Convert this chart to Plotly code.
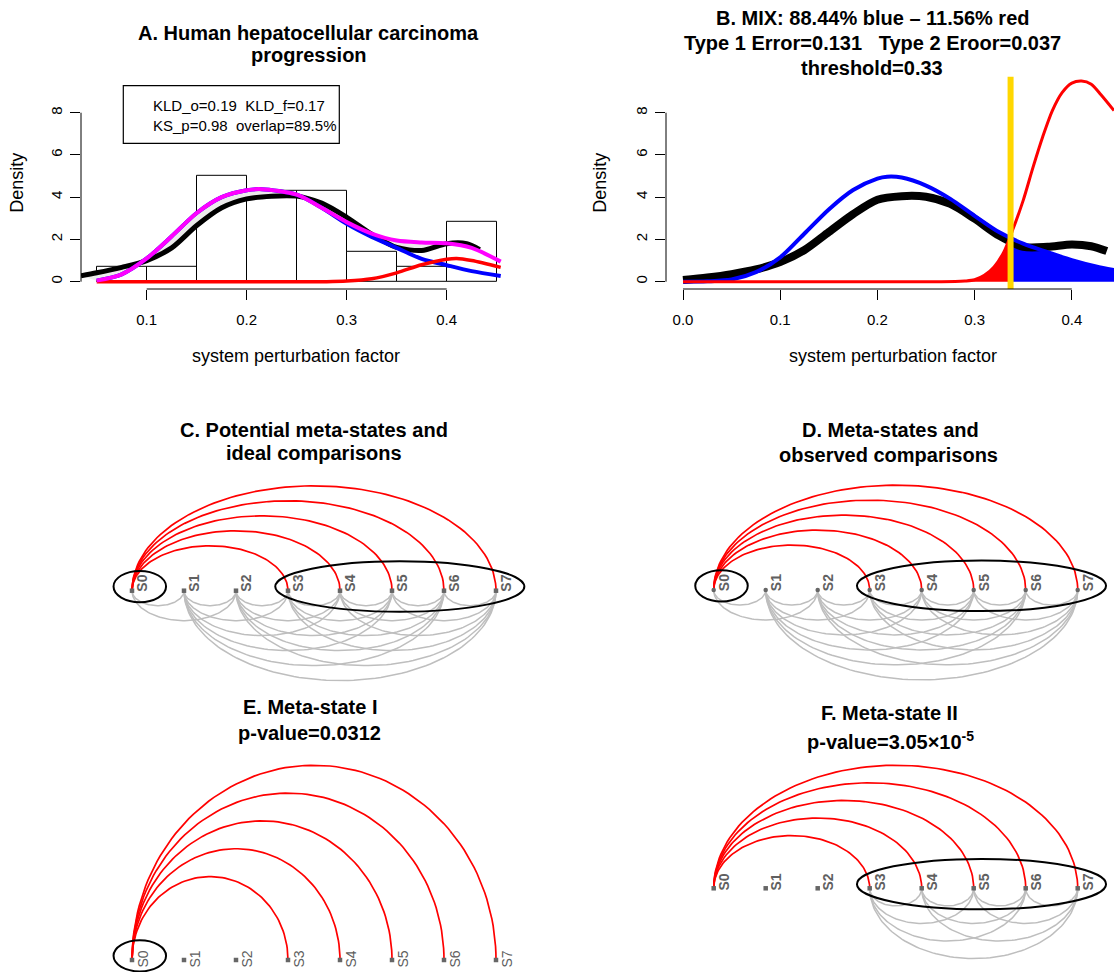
import numpy as np
import plotly.graph_objects as go

W, H = 1114, 972
FONT = "Liberation Sans, Arial, Helvetica, sans-serif"
NB = "\u00a0"

# ---------------- Panel A data ----------------
hist_left = [0.05, 0.10, 0.15, 0.20, 0.25, 0.30, 0.35, 0.40]
hist_density = [0.714, 0.714, 5.0, 4.286, 4.286, 1.429, 0.714, 2.857]
bin_width = 0.05

A_black_x = [0.0343, 0.05, 0.075, 0.1, 0.125, 0.15, 0.175, 0.2, 0.225, 0.25, 0.275, 0.3, 0.325, 0.35, 0.375, 0.4, 0.42, 0.433]
A_black_y = [0.28, 0.42, 0.68, 1.0, 1.6, 2.66, 3.5, 3.92, 4.05, 4.05, 3.72, 3.05, 2.25, 1.62, 1.48, 1.8, 1.8, 1.52]

A_mag_x = [0.05, 0.075, 0.1, 0.125, 0.15, 0.175, 0.2, 0.215, 0.25, 0.275, 0.3, 0.325, 0.35, 0.375, 0.4, 0.425, 0.454]
A_mag_y = [0.05, 0.35, 1.1, 2.15, 3.25, 4.0, 4.33, 4.38, 4.12, 3.5, 2.82, 2.28, 1.95, 1.86, 1.82, 1.6, 0.95]

A_blue_x = [0.05, 0.075, 0.1, 0.125, 0.15, 0.175, 0.2, 0.215, 0.25, 0.275, 0.3, 0.325, 0.35, 0.375, 0.4, 0.425, 0.454]
A_blue_y = [0.05, 0.35, 1.1, 2.15, 3.25, 4.0, 4.33, 4.38, 4.12, 3.5, 2.74, 2.12, 1.6, 1.08, 0.78, 0.5, 0.27]

A_red_x = [0.05, 0.1, 0.15, 0.2, 0.25, 0.28, 0.3, 0.325, 0.35, 0.375, 0.4, 0.41, 0.425, 0.454]
A_red_y = [0.0, 0.0, 0.0, 0.0, 0.0, 0.0, 0.03, 0.14, 0.42, 0.8, 1.06, 1.1, 1.0, 0.68]

A_xticks = [0.1, 0.2, 0.3, 0.4]
A_xticklabels = ["0.1", "0.2", "0.3", "0.4"]
yticks = [0, 2, 4, 6, 8]
legend_lines = ["KLD_o=0.19" + NB * 2 + "KLD_f=0.17", "KS_p=0.98" + NB * 2 + "overlap=89.5%"]

# ---------------- Panel B data ----------------
B_black_x = [0.0, 0.025, 0.05, 0.075, 0.1, 0.125, 0.15, 0.175, 0.2, 0.225, 0.25, 0.275, 0.3, 0.325, 0.35, 0.375, 0.4, 0.42, 0.436]
B_black_y = [0.08, 0.2, 0.36, 0.58, 0.93, 1.5, 2.35, 3.2, 3.88, 4.05, 4.02, 3.68, 2.98, 2.18, 1.65, 1.65, 1.76, 1.68, 1.45]

B_blue_x = [0.0, 0.025, 0.05, 0.075, 0.1, 0.125, 0.15, 0.175, 0.2, 0.21, 0.225, 0.25, 0.275, 0.3, 0.325, 0.35, 0.375, 0.4, 0.425, 0.4434]
B_blue_y = [0.0, 0.02, 0.1, 0.45, 1.15, 2.28, 3.42, 4.34, 4.88, 4.97, 4.93, 4.55, 3.92, 3.12, 2.35, 1.8, 1.4, 1.02, 0.72, 0.55]

B_red_x = [0.0, 0.1, 0.2, 0.26, 0.28, 0.29, 0.3, 0.31, 0.32, 0.33, 0.34, 0.35, 0.36, 0.37, 0.38, 0.39, 0.4, 0.41, 0.42, 0.43, 0.4434]
B_red_y = [0.0, 0.0, 0.0, 0.0, 0.005, 0.03, 0.09, 0.3, 0.7, 1.4, 2.55, 3.85, 5.4, 6.85, 8.1, 8.95, 9.4, 9.5, 9.35, 8.85, 8.1]

threshold_x = 0.337
B_xticks = [0.0, 0.1, 0.2, 0.3, 0.4]
B_xticklabels = ["0.0", "0.1", "0.2", "0.3", "0.4"]

# ---------------- Arc panels data ----------------
nodes = ["S0", "S1", "S2", "S3", "S4", "S5", "S6", "S7"]
red_edges = [("S0", "S3"), ("S0", "S4"), ("S0", "S5"), ("S0", "S6"), ("S0", "S7")]
gray_edges_CD = [("S0", "S1"), ("S0", "S2"),
                 ("S1", "S2"), ("S1", "S3"), ("S1", "S4"), ("S1", "S5"), ("S1", "S6"), ("S1", "S7"),
                 ("S2", "S3"), ("S2", "S4"), ("S2", "S5"), ("S2", "S6"), ("S2", "S7"),
                 ("S3", "S4"), ("S3", "S5"), ("S3", "S6"), ("S3", "S7"),
                 ("S4", "S5"), ("S4", "S6"), ("S4", "S7"),
                 ("S5", "S6"), ("S5", "S7"),
                 ("S6", "S7")]
gray_edges_F = [("S3", "S4"), ("S3", "S5"), ("S3", "S6"), ("S3", "S7"),
                ("S4", "S5"), ("S4", "S6"), ("S4", "S7"),
                ("S5", "S6"), ("S5", "S7"),
                ("S6", "S7")]
groups_CD = [["S0"], ["S3", "S4", "S5", "S6", "S7"]]
groups_E = [["S0"]]
groups_F = [["S3", "S4", "S5", "S6", "S7"]]

fig = go.Figure()


def px(xp):
    return xp / W


def py(yp):
    return 1 - yp / H


# ---------- Panel A ----------
fig.add_trace(go.Bar(x=[l + bin_width / 2 for l in hist_left], y=hist_density, width=bin_width,
                     marker=dict(color="white", line=dict(color="black", width=1)),
                     xaxis="x", yaxis="y", showlegend=False, hoverinfo="skip"))
fig.add_trace(go.Scatter(x=A_black_x, y=A_black_y, mode="lines", line=dict(width=0, shape="spline", smoothing=0.8),
                         xaxis="x", yaxis="y", showlegend=False, hoverinfo="skip"))
fig.add_trace(go.Scatter(x=A_mag_x, y=A_mag_y, mode="lines", line=dict(width=0, shape="spline", smoothing=0.8),
                         fill="tonexty", fillcolor="#EBEBEB",
                         xaxis="x", yaxis="y", showlegend=False, hoverinfo="skip"))
for xs, ys, col, w in [(A_black_x, A_black_y, "black", 5), (A_blue_x, A_blue_y, "blue", 4),
                       (A_red_x, A_red_y, "red", 3.5), (A_mag_x, A_mag_y, "magenta", 4)]:
    fig.add_trace(go.Scatter(x=xs, y=ys, mode="lines", line=dict(color=col, width=w, shape="spline", smoothing=0.8),
                             xaxis="x", yaxis="y", showlegend=False, hoverinfo="skip"))

# ---------- Panel B ----------
rx = [x for x in B_red_x if 0.29 <= x < threshold_x] + [threshold_x]
ry = [y for x, y in zip(B_red_x, B_red_y) if 0.29 <= x < threshold_x] + [float(np.interp(threshold_x, B_red_x, B_red_y))]
bx = [threshold_x] + [x for x in B_blue_x if x > threshold_x]
by = [float(np.interp(threshold_x, B_blue_x, B_blue_y))] + [y for x, y in zip(B_blue_x, B_blue_y) if x > threshold_x]
fig.add_trace(go.Scatter(x=rx, y=ry, mode="lines", fill="tozeroy", fillcolor="red",
                         line=dict(color="black", width=1, shape="spline", smoothing=0.6),
                         xaxis="x2", yaxis="y2", showlegend=False, hoverinfo="skip"))
fig.add_trace(go.Scatter(x=bx, y=by, mode="lines", fill="tozeroy", fillcolor="blue",
                         line=dict(color="black", width=1, shape="spline", smoothing=0.6),
                         xaxis="x2", yaxis="y2", showlegend=False, hoverinfo="skip"))
for xs, ys, col, w in [(B_black_x, B_black_y, "black", 8), (B_blue_x, B_blue_y, "blue", 4),
                       (B_red_x, B_red_y, "red", 3)]:
    fig.add_trace(go.Scatter(x=xs, y=ys, mode="lines", line=dict(color=col, width=w, shape="spline", smoothing=0.8),
                             xaxis="x2", yaxis="y2", showlegend=False, hoverinfo="skip"))

shapes = []
annotations = []

# yellow threshold line
shapes.append(dict(type="line", xref="x2", yref="y2 domain", x0=threshold_x, x1=threshold_x, y0=0, y1=1,
                   line=dict(color="#FFD700", width=6)))

# R-style axis lines
for xa, ya, xt in [("x", "y", A_xticks), ("x2", "y2", B_xticks)]:
    shapes.append(dict(type="line", xref=xa, yref=ya + " domain", x0=min(xt), x1=max(xt), y0=0, y1=0,
                       line=dict(color="black", width=1)))
    shapes.append(dict(type="line", xref=xa + " domain", yref=ya, x0=0, x1=0, y0=min(yticks), y1=max(yticks),
                       line=dict(color="black", width=1)))

# legend box A
shapes.append(dict(type="rect", xref="paper", yref="paper", x0=px(123.3), x1=px(339.3), y0=py(143.3), y1=py(85.7),
                   line=dict(color="black", width=1.2), fillcolor="rgba(0,0,0,0)"))
for i, t in enumerate(legend_lines):
    annotations.append(dict(text=t, x=px(151), y=py([105.3, 125.5][i]), xref="paper", yref="paper",
                            xanchor="left", yanchor="middle", showarrow=False,
                            font=dict(family=FONT, size=15, color="black")))

# ---------- Arc panels ----------
UNIT = 52.0
arc_panels = [
    ("C", "x3", "y3", 132.0, 590.7, (100, 545), (465, 700), 0.288, red_edges, gray_edges_CD, groups_CD, "square", 7.5, True),
    ("D", "x4", "y4", 713.7, 590.0, (680, 1114), (465, 700), 0.288, red_edges, gray_edges_CD, groups_CD, "circle", 7.0, True),
    ("E", "x5", "y5", 132.0, 960.0, (100, 545), (750, 972), 0.535, red_edges, [], groups_E, "square", 1.0, False),
    ("F", "x6", "y6", 713.7, 888.3, (680, 1114), (750, 972), 0.338, red_edges, gray_edges_F, groups_F, "square", 6.0, True),
]
pos = {n: i for i, n in enumerate(nodes)}
t = np.linspace(0, np.pi, 90)
axis_layout = {}


def arcs(edges, ratio, sign):
    xs, ys = [], []
    for a, b in edges:
        ia, ib = pos[a], pos[b]
        c, r = (ia + ib) / 2, (ib - ia) / 2
        xs += list(c - r * np.cos(t)) + [None]
        ys += list(sign * ratio * (ib - ia) * np.sin(t)) + [None]
    return xs, ys


for (name, xa, ya, x0p, nyp, xdom, ydom, ratio, reds, grays, groups, sym, lshift, bold) in arc_panels:
    axis_layout["xaxis" + xa[1:]] = dict(domain=[px(xdom[0]), px(xdom[1])],
                                         range=[(xdom[0] - x0p) / UNIT, (xdom[1] - x0p) / UNIT],
                                         visible=False, anchor=ya)
    axis_layout["yaxis" + ya[1:]] = dict(domain=[py(ydom[1]), py(ydom[0])],
                                         range=[-(ydom[1] - nyp) / UNIT, (nyp - ydom[0]) / UNIT],
                                         visible=False, anchor=xa)
    if grays:
        gx, gy = arcs(grays, ratio, -1)
        fig.add_trace(go.Scatter(x=gx, y=gy, mode="lines", line=dict(color="#BEBEBE", width=1.5),
                                 xaxis=xa, yaxis=ya, showlegend=False, hoverinfo="skip"))
    rxs, rys = arcs(reds, ratio, 1)
    fig.add_trace(go.Scatter(x=rxs, y=rys, mode="lines", line=dict(color="red", width=1.7),
                             xaxis=xa, yaxis=ya, showlegend=False, hoverinfo="skip"))
    fig.add_trace(go.Scatter(x=[pos[n] for n in nodes], y=[0] * len(nodes), mode="markers",
                             marker=dict(symbol=sym, size=4.5, color="#666666"),
                             xaxis=xa, yaxis=ya, showlegend=False, hoverinfo="skip"))
    for n in nodes:
        annotations.append(dict(text=("<b>%s</b>" % n) if bold else n, x=pos[n], y=0, xref=xa, yref=ya,
                                textangle=-90, xanchor="center", yanchor="middle", xshift=10.5, yshift=lshift,
                                showarrow=False, font=dict(family=FONT, size=14, color="#606060")))
    for g in groups:
        idx = [pos[n] for n in g]
        cx = (min(idx) + max(idx)) / 2 + 0.15
        rxx = (max(idx) - min(idx)) / 2 + (0.505 if len(g) == 1 else 0.395)
        ryy = 0.30 if len(g) == 1 else 0.485
        cy = 0.08
        shapes.append(dict(type="circle", xref=xa, yref=ya, x0=cx - rxx, x1=cx + rxx, y0=cy - ryy, y1=cy + ryy,
                           line=dict(color="black", width=2)))

# ---------- Titles & axis titles ----------
titles = [
    ("A. Human hepatocellular carcinoma", 308, 33.3), ("progression", 308.5, 55.0),
    ("B. MIX: 88.44% blue \u2013 11.56% red", 872, 18.3),
    ("Type 1 Error=0.131" + NB * 3 + "Type 2 Eroor=0.037", 872.5, 43.3),
    ("threshold=0.33", 872, 68.3),
    ("C. Potential meta-states and", 314, 430), ("ideal comparisons", 314, 453.3),
    ("D. Meta-states and", 890, 430), ("observed comparisons", 888, 455),
    ("E. Meta-state I", 310, 706.7), ("p-value=0.0312", 309, 733.3),
    ("F. Meta-state II", 889, 713), ("p-value=3.05\u00d710<sup>-5</sup>", 890, 740),
]
for txt, xc, yc in titles:
    annotations.append(dict(text="<b>%s</b>" % txt, x=px(xc), y=py(yc), xref="paper", yref="paper",
                            xanchor="center", yanchor="middle", showarrow=False,
                            font=dict(family=FONT, size=20, color="black")))

for xc, yc in [(17.5, 183.3), (600.5, 183.3)]:
    annotations.append(dict(text="Density", x=px(xc), y=py(yc), xref="paper", yref="paper", textangle=-90,
                            xanchor="center", yanchor="middle", showarrow=False,
                            font=dict(family=FONT, size=18, color="black")))
for xc, yc in [(296, 356), (892.5, 356)]:
    annotations.append(dict(text="system perturbation factor", x=px(xc), y=py(yc), xref="paper", yref="paper",
                            xanchor="center", yanchor="middle", showarrow=False,
                            font=dict(family=FONT, size=18, color="black")))

tickfont = dict(family=FONT, size=15, color="black")
common_x = dict(showgrid=False, zeroline=False, showline=False, ticks="outside", ticklen=10, tickwidth=1,
                tickcolor="black", tickfont=tickfont, ticklabelstandoff=7)
common_y = dict(showgrid=False, zeroline=False, showline=False, ticks="outside", ticklen=10, tickwidth=1,
                tickcolor="black", tickfont=tickfont, tickangle=-90, tickvals=yticks,
                ticktext=[str(v) for v in yticks], ticklabelstandoff=2)

yr = [-0.346, 9.7]
ydom = [py(289), py(76.8)]

fig.update_layout(
    width=W, height=H, autosize=False, margin=dict(l=0, r=0, t=0, b=0),
    paper_bgcolor="white", plot_bgcolor="rgba(0,0,0,0)", showlegend=False,
    font=dict(family=FONT),
    xaxis=dict(domain=[px(81), px(535)], range=[0.0343, 0.4883], anchor="y",
               tickvals=A_xticks, ticktext=A_xticklabels, **common_x),
    yaxis=dict(domain=ydom, range=yr, anchor="x", **common_y),
    xaxis2=dict(domain=[px(666), 1.0], range=[-0.0175, 0.4434], anchor="y2",
                tickvals=B_xticks, ticktext=B_xticklabels, **common_x),
    yaxis2=dict(domain=ydom, range=yr, anchor="x2", **common_y),
    shapes=shapes, annotations=annotations, bargap=0,
)
fig.update_layout(**axis_layout)

fig.write_html("out.html", config={"displayModeBar": False},
               post_script="document.body.style.margin='0px';document.body.style.overflow='hidden';")
